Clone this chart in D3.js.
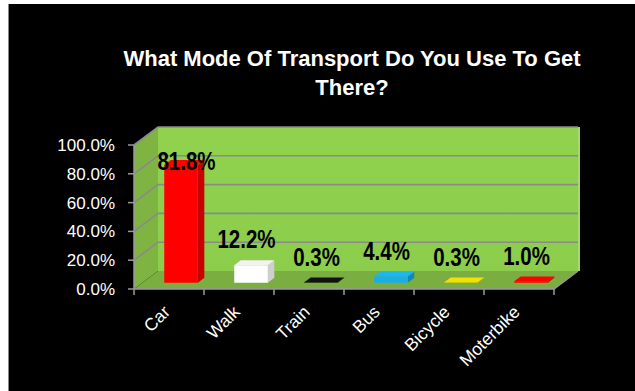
<!DOCTYPE html>
<html>
<head>
<meta charset="utf-8">
<script src="https://cdn.jsdelivr.net/npm/d3@7"></script>
<style>
html,body{margin:0;padding:0;background:#fff;}
svg{display:block;}
</style>
</head>
<body>
<svg id="chart" width="635" height="391"></svg>
<script>
const categories = ["Car", "Walk", "Train", "Bus", "Bicycle", "Moterbike"];
const values = [81.8, 12.2, 0.3, 4.4, 0.3, 1.0];
const barColors = ["#ff0000", "#ffffff", "#000000", "#19aee6", "#e8d400", "#ff0000"];
const yTicks = [0, 20, 40, 60, 80, 100];
const titleLines = ["What Mode Of Transport Do You Use To Get", "There?"];

const W = 635, H = 391;
const svg = d3.select("#chart");

// background
svg.append("rect").attr("x", 8).attr("y", 4).attr("width", W - 8).attr("height", H - 4).attr("fill", "#000");
svg.append("line").attr("x1", 8.5).attr("x2", 8.5).attr("y1", 4).attr("y2", H).attr("stroke", "#888").attr("stroke-width", 1);

// scales (front plane)
const x = d3.scaleBand().domain(categories).range([134, 554]);
const xBar = d3.scaleBand().domain(categories).range([134, 554]).paddingInner(0.52).paddingOuter(0.26).align(0.6);
const y = d3.scaleLinear().domain([0, 100]).range([289, 145]);
const DX = 24, DY = -18; // depth projection
const P = (px, py, z) => [px + DX * z, py + DY * z];
const poly = pts => pts.map(p => p.join(",")).join(" ");

const x0 = x.range()[0], x1 = x.range()[1];
const yb = y(0), yt = y(100);

// side wall
svg.append("polygon")
  .attr("points", poly([P(x0, yb, 0), P(x0, yb, 1), P(x0, yt, 1), P(x0, yt, 0)]))
  .attr("fill", "#7fb443");
// back wall
const bwGrad = svg.append("defs").append("linearGradient").attr("id", "bw").attr("x1", 0).attr("x2", 0).attr("y1", 0).attr("y2", 1);
bwGrad.append("stop").attr("offset", "0%").attr("stop-color", "#90d24e");
bwGrad.append("stop").attr("offset", "100%").attr("stop-color", "#8ccd4c");
svg.append("polygon")
  .attr("points", poly([P(x0, yb, 1), P(x1, yb, 1), P(x1, yt, 1), P(x0, yt, 1)]))
  .attr("fill", "url(#bw)");
// back wall right edge highlight
svg.append("polygon")
  .attr("points", poly([P(x1, yb, 1), [P(x1, yb, 1)[0] + 2, P(x1, yb, 1)[1]], [P(x1, yt, 1)[0] + 2, P(x1, yt, 1)[1]], P(x1, yt, 1)]))
  .attr("fill", "#a6d870");
// gridlines
yTicks.forEach(t => {
  if (t === 0) return;
  svg.append("polyline")
    .attr("points", poly([P(x0, y(t), 0), P(x0, y(t), 1), P(x1, y(t), 1)]))
    .attr("fill", "none").attr("stroke", "#8a8a8a").attr("stroke-width", 1.6);
});
// floor
svg.append("polygon")
  .attr("points", poly([P(x0, yb, 0), P(x1, yb, 0), P(x1, yb, 1), P(x0, yb, 1)]))
  .attr("fill", "#7aae40");
svg.append("polyline")
  .attr("points", poly([P(x0, yb, 0), P(x1, yb, 0), P(x1, yb, 1)]))
  .attr("fill", "none").attr("stroke", "#9a9a9a").attr("stroke-width", 1.5);

// bars
const zf = 0.35, zb = 0.62;
function shade(c, k) { const col = d3.color(c); return k > 0 ? col.brighter(k) : col.darker(-k); }
categories.forEach((c, i) => {
  const v = values[i];
  const bl = xBar(c), br = xBar(c) + xBar.bandwidth();
  const top = y(v), bot = y(0);
  const col = barColors[i];
  const isWhite = col === "#ffffff";
  const isBlack = col === "#000000";
  const sideCol = isWhite ? "#cfcfcf" : isBlack ? "#1a1a1a" : shade(col, -0.7);
  const topCol = isWhite ? "#f2f2f2" : isBlack ? "#111" : shade(col, 0.15);
  svg.append("polygon")
    .attr("points", poly([P(br, bot, zf), P(br, bot, zb), P(br, top, zb), P(br, top, zf)]))
    .attr("fill", sideCol);
  svg.append("polygon")
    .attr("points", poly([P(bl, bot, zf), P(br, bot, zf), P(br, top, zf), P(bl, top, zf)]))
    .attr("fill", col);
  svg.append("polygon")
    .attr("points", poly([P(bl, top, zf), P(br, top, zf), P(br, top, zb), P(bl, top, zb)]))
    .attr("fill", topCol);
});

// y axis
svg.append("line").attr("x1", x0).attr("x2", x0).attr("y1", yt).attr("y2", yb)
  .attr("stroke", "#9a9a9a").attr("stroke-width", 1.5);
yTicks.forEach(t => {
  svg.append("line").attr("x1", x0 - 6).attr("x2", x0).attr("y1", y(t)).attr("y2", y(t))
    .attr("stroke", "#9a9a9a").attr("stroke-width", 1.5);
  svg.append("text").attr("x", 115).attr("y", y(t) + 6)
    .attr("text-anchor", "end").attr("fill", "#fff")
    .style("font-family", "'Liberation Sans', Arial, sans-serif").style("font-size", "17px")
    .text(t.toFixed(1) + "%");
});
// x ticks
const bounds = categories.map(c => x(c)).concat([x1]);
bounds.forEach(b => {
  svg.append("line").attr("x1", b).attr("x2", b).attr("y1", yb).attr("y2", yb + 6)
    .attr("stroke", "#9a9a9a").attr("stroke-width", 1.5);
});
categories.forEach(c => {
  const cx = x(c) + x.bandwidth() / 2 + 2, cy = 313;
  svg.append("text").attr("transform", `translate(${cx},${cy}) rotate(-45)`)
    .attr("text-anchor", "end").attr("fill", "#fff")
    .style("font-family", "'Liberation Sans', Arial, sans-serif").style("font-size", "17.5px")
    .text(c);
});

// data labels (Arial-Narrow-like: condensed horizontally)
categories.forEach((c, i) => {
  const v = values[i];
  const clamped = y(v) - 23 < y(100) + 25;
  const ly = clamped ? y(100) + 25 : y(v) - 23;
  const lx = x(c) + x.bandwidth() / 2 + 7.5 + (clamped ? 10 : 0);
  svg.append("text").attr("transform", `translate(${lx},${ly}) scale(0.82,1)`)
    .attr("text-anchor", "middle").attr("fill", "#000")
    .style("font-family", "'Liberation Sans', Arial, sans-serif")
    .style("font-weight", "bold").style("font-size", "25px")
    .text(v.toFixed(1) + "%");
});

// title
titleLines.forEach((t, i) => {
  svg.append("text").attr("x", 352).attr("y", 66 + i * 29)
    .attr("text-anchor", "middle").attr("fill", "#fff")
    .style("font-family", "'Liberation Sans', Arial, sans-serif")
    .style("font-weight", "bold").style("font-size", "22px")
    .text(t);
});
</script>
</body>
</html>
